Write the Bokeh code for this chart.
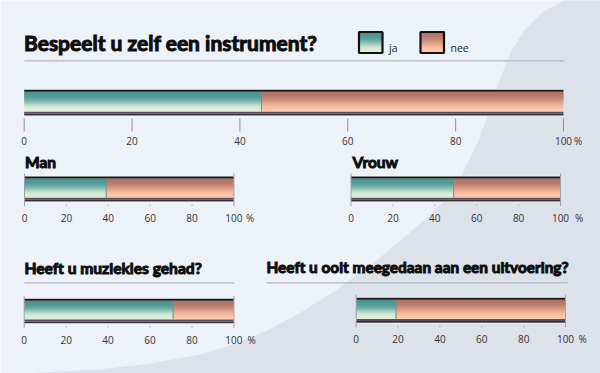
import numpy as np
from bokeh.plotting import figure
from bokeh.models import Range1d, ColumnDataSource
from bokeh.core.properties import value
from bokeh.embed import file_html
from bokeh.resources import INLINE

# ---------------- data ----------------
main_title = "Bespeelt u zelf een instrument?"
legend_labels = ["ja", "nee"]
panel_names = ["totaal", "Man", "Vrouw", "Heeft u muziekles gehad?",
               "Heeft u ooit meegedaan aan een uitvoering?"]
ja_values = [44, 39, 49, 71, 19]          # percentage "ja"; "nee" = 100 - ja
nee_values = [100 - v for v in ja_values]
tick_values = [0, 20, 40, 60, 80, 100]
tick_labels = ["0", "20", "40", "60", "80", "100"]
unit_label = "%"

# ---------------- layout (reference pixel coordinates) ----------------
FX0, FX1, FY0, FY1 = 0, 600, 0, 373
W, H = FX1 - FX0, FY1 - FY0

panels = [
    dict(x0=23.7, x1=563.0, top=89.3, bot=115.0, lab_y=140.7, pct_x=573.5, kind="long",
         title=None),
    dict(x0=24.0, x1=233.4, top=176.0, bot=201.0, lab_y=217.3, pct_x=245.5, kind="short",
         title=(24.5, 166.7, None, 15.5)),
    dict(x0=350.5, x1=560.0, top=176.0, bot=201.0, lab_y=217.3, pct_x=574.5, kind="short",
         title=(352.0, 166.7, None, 15.5)),
    dict(x0=23.7, x1=233.4, top=298.3, bot=322.7, lab_y=339.3, pct_x=247.0, kind="short",
         title=(24.0, 272.7, (24.0, 234.0, 282.3), 15.6)),
    dict(x0=355.7, x1=565.0, top=297.3, bot=322.3, lab_y=338.3, pct_x=578.0, kind="short",
         title=(266.0, 271.7, (266.0, 567.0, 282.3), 15.4)),
]

TITLE_FONT = value("Lato")
TICK_FONT = value("Open Sans")
BASE_SHIFT = 0.36   # correction (in em) for the alphabetic baseline placement

TEAL = [(0.0, "#4a8f8c"), (0.3, "#55a09c"), (0.5, "#86bcb2"), (0.72, "#cfe5d3"), (1.0, "#e4f1de")]
SALMON = [(0.0, "#ac6f63"), (0.3, "#bd8274"), (0.5, "#d99d86"), (0.72, "#f6bb9c"), (1.0, "#fdd0b2")]


def interp(stops, t):
    for (t0, c0), (t1, c1) in zip(stops[:-1], stops[1:]):
        if t <= t1:
            a = (t - t0) / (t1 - t0) if t1 > t0 else 0
            r0 = np.array([int(c0[i:i + 2], 16) for i in (1, 3, 5)])
            r1 = np.array([int(c1[i:i + 2], 16) for i in (1, 3, 5)])
            r = (r0 + (r1 - r0) * a).round().astype(int)
            return "#%02x%02x%02x" % tuple(r)
    return stops[-1][1]


p = figure(width=W, height=H, x_range=Range1d(FX0, FX1), y_range=Range1d(FY1, FY0),
           output_backend="svg", toolbar_location=None,
           x_axis_location=None, y_axis_location=None, min_border=0)
p.xgrid.grid_line_color = None
p.ygrid.grid_line_color = None
p.outline_line_color = None
p.background_fill_color = "#edf1f8"
p.border_fill_color = "#edf1f8"

# background sweep
cx = [572, 560, 542, 524, 511, 499, 489, 480, 471, 461, 446, 428, 400, 370, 335, 300,
      267, 233, 200, 150, 100, 43, 0, -10, -10, 640, 640]
cy = [-5, 2, 12, 30, 50, 80, 110, 135, 155, 175, 198, 216, 240, 265, 290, 312,
      330, 344, 354, 363, 369, 372, 374, 374, 420, 420, -5]
p.patch(cx, cy, fill_color="#dce1ea", line_color=None)

# per-panel scales
for i, pn in enumerate(panels):
    s = (pn["x1"] - pn["x0"]) / 100.0
    p.extra_x_ranges["p%d" % i] = Range1d((FX0 - pn["x0"]) / s, (FX1 - pn["x0"]) / s)


def heading(x, y, txt, size):
    r = p.text(x=[x], y=[y - BASE_SHIFT * size], text=[txt], text_font=TITLE_FONT,
               text_font_size="%.1fpx" % size, text_font_style="bold",
               text_color="#0d0d0d", text_baseline="alphabetic")
    if hasattr(r.glyph, "text_outline_color"):
        r.glyph.text_outline_color = "#0d0d0d"
    return r


# main title + legend
heading(23.5, 49.5, main_title, 21.0)
p.segment(x0=[24], y0=[60.3], x1=[564], y1=[60.3], line_color="#b3b8c2", line_width=1.2)


def gradient_box(left, right, top, bottom, stops, x_range_name="default", n=None):
    h = bottom - top
    n = n or max(int(round(h)), 2)
    L, R, T, B, C = [], [], [], [], []
    for k in range(n):
        t = (k + 0.5) / n
        for l, r, st in zip(left, right, stops):
            L.append(l)
            R.append(r)
            T.append(top + k * h / n)
            B.append(min(top + (k + 1) * h / n + 0.6, bottom))
            C.append(interp(st, t))
    src = ColumnDataSource(dict(left=L, right=R, top=T, bottom=B, color=C))
    p.quad(left="left", right="right", top="top", bottom="bottom", fill_color="color",
           line_color=None, source=src, x_range_name=x_range_name)


# legend boxes
leg_x = [358.5, 420.0]
for lx, st, lab in zip(leg_x, [TEAL, SALMON], legend_labels):
    gradient_box([lx], [lx + 23.5], 31.5, 52.5, [st])
    p.quad(left=[lx], right=[lx + 23.5], top=[31.5], bottom=[52.5], fill_color=None,
           line_color="#111111", line_width=2.2)
    p.text(x=[lx + 30], y=[51.5 - BASE_SHIFT * 10.5], text=[lab], text_font=TICK_FONT,
           text_font_size="10.5px", text_color="#222222", text_baseline="alphabetic")

# panels
for i, pn in enumerate(panels):
    rn = "p%d" % i
    ja, nee = ja_values[i], nee_values[i]
    top, bot = pn["top"], pn["bot"]
    # white rim
    p.quad(left=[0], right=[100], top=[top - 0.8], bottom=[bot + 0.8], fill_color="white",
           line_color=None, x_range_name=rn)
    # gradient body
    g_top, g_bot = top + 2.0, bot - 3.8
    gradient_box([0, ja], [ja, ja + nee], g_top, g_bot, [TEAL, SALMON], x_range_name=rn)
    # top black line & bottom dark band
    p.quad(left=[0], right=[100], top=[top], bottom=[top + 2.0], fill_color="#141414",
           line_color=None, x_range_name=rn)
    p.quad(left=[0], right=[100], top=[bot - 3.8], bottom=[bot - 1.8], fill_color="#5a5058",
           line_color=None, x_range_name=rn)
    p.quad(left=[0], right=[100], top=[bot - 1.8], bottom=[bot], fill_color="#3b3039",
           line_color=None, x_range_name=rn)
    # split line
    p.segment(x0=[ja], y0=[g_top], x1=[ja], y1=[g_bot], line_color="#6d9085",
              line_width=1, x_range_name=rn)

    # ticks
    if pn["kind"] == "long":
        p.segment(x0=tick_values, y0=[118] * 6, x1=tick_values, y1=[131] * 6,
                  line_color="#8a9099", line_width=1, x_range_name=rn)
    else:
        ends = [tick_values[0], tick_values[-1]]
        p.segment(x0=ends, y0=[top - 3] * 2, x1=ends, y1=[bot + 4.5] * 2,
                  line_color="#9aa0a8", line_width=1, x_range_name=rn)
        mids = tick_values[1:-1]
        p.segment(x0=mids, y0=[bot + 3] * len(mids), x1=mids, y1=[bot + 4.5] * len(mids),
                  line_color="#a6abb3", line_width=1, x_range_name=rn)
    p.text(x=tick_values, y=[pn["lab_y"]] * 6, text=tick_labels, text_font=TICK_FONT,
           text_font_size="10px", text_color="#333333", text_align="center",
           text_baseline="middle", x_range_name=rn)
    p.text(x=[pn["pct_x"]], y=[pn["lab_y"]], text=[unit_label], text_font=TICK_FONT,
           text_font_size="10px", text_color="#333333", text_align="left",
           text_baseline="middle")

    if pn["title"] is not None:
        tx, ty, ul, tfs = pn["title"]
        heading(tx, ty, panel_names[i], tfs)
        if ul is not None:
            p.segment(x0=[ul[0]], y0=[ul[2]], x1=[ul[1]], y1=[ul[2]],
                      line_color="#b3b8c2", line_width=1.2)

open("out.html", "w").write(file_html(p, INLINE))
